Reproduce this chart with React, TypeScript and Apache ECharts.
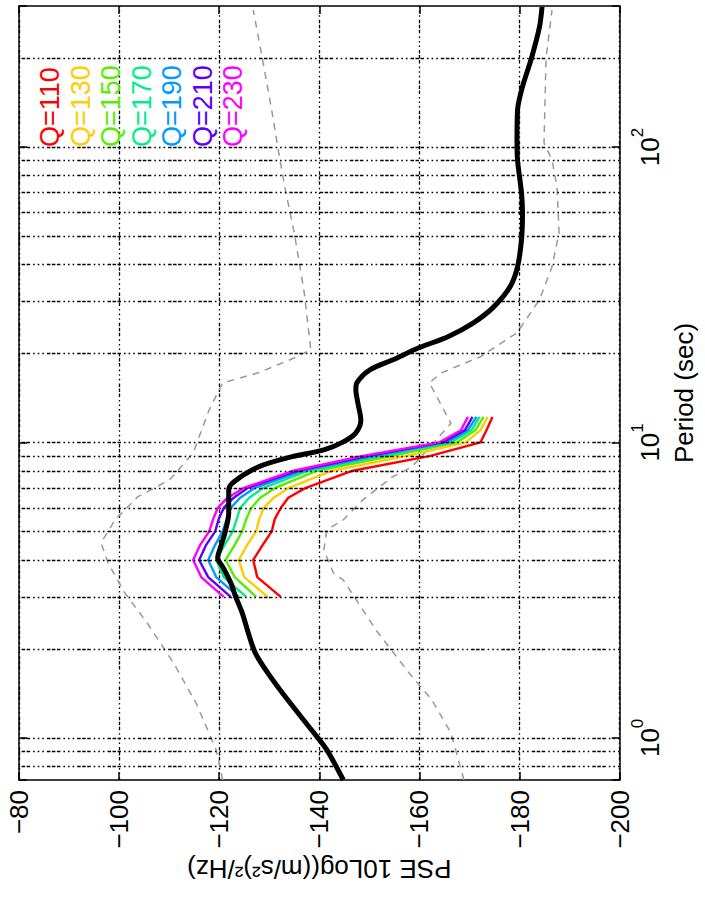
import React, { useEffect, useRef } from 'react';
import * as echarts from 'echarts';

// ---- data ----
const qValues = [110, 130, 150, 170, 190, 210, 230];
const qColors = ['#ff0000', '#ffcc00', '#55ee00', '#00ee88', '#0099ff', '#5a00ff', '#ff00ff'];
const qPeriods = [3.0, 3.5, 4.0, 4.5, 5.0, 5.5, 6.0, 6.5, 7.0, 8.0, 9.0, 10.0, 11.0, 12.2];
const q110 = [-132.3, -127.6, -126.8, -128.7, -130.5, -131.1, -132.3, -133.8, -137.2, -146.4, -162.2, -172.2, -173.4, -174.6];
const q130 = [-129.7, -125.0, -123.9, -125.6, -127.4, -128.0, -128.9, -130.9, -133.8, -142.3, -157.5, -169.3, -172.2, -173.6];
const q150 = [-127.4, -123.1, -121.3, -123.1, -124.6, -125.4, -126.4, -128.2, -131.1, -139.3, -154.6, -167.5, -171.2, -172.8];
const q170 = [-125.4, -120.9, -119.4, -121.1, -122.7, -123.5, -124.2, -126.0, -128.7, -137.6, -152.6, -166.3, -170.4, -172.0];
const q190 = [-123.9, -119.4, -117.8, -119.2, -120.7, -121.5, -122.3, -124.2, -127.0, -136.4, -151.1, -165.4, -169.7, -171.4];
const q210 = [-122.3, -117.8, -116.0, -117.4, -119.2, -119.9, -120.9, -122.9, -125.6, -135.4, -149.9, -164.6, -169.1, -170.6];
const q230 = [-120.9, -116.4, -114.8, -116.2, -118.0, -118.8, -119.7, -121.7, -124.8, -134.6, -148.7, -164.0, -168.3, -169.7];
const qSeries = [q110, q130, q150, q170, q190, q210, q230];

const stationPeriod = [0.72, 0.91, 1.04, 1.35, 1.66, 1.94, 2.27, 2.65, 3.0, 3.35, 3.79, 4.07, 4.43, 5.06, 5.77, 6.9, 7.35, 8.26, 8.93, 9.43, 10.04, 10.77, 11.9, 13.6, 15.1, 15.9, 17.6, 19.0, 20.9, 22.8, 25.4, 28.7, 33.6, 39.3, 48.5, 59.8, 69.9, 90.4, 105.6, 133, 160, 200, 255, 298];
const stationPSE = [-144.8, -141.5, -138.9, -133.6, -129.7, -127.2, -125.8, -124.6, -123.3, -122.3, -120.7, -119.7, -120.3, -121.3, -121.9, -121.9, -122.9, -127.8, -134.4, -140.9, -144.8, -147.3, -148.3, -147.7, -147.3, -147.5, -150.1, -154.6, -159.9, -165.7, -170.8, -174.8, -178.1, -179.6, -180.4, -180.6, -180.4, -179.6, -179.5, -179.6, -180.6, -182.4, -184.0, -184.5];

const highPeriod = [0.72, 0.91, 1.31, 1.79, 2.45, 3.1, 3.91, 4.57, 5.47, 6.54, 7.47, 9.21, 12.9, 15.9, 17.2, 19.5, 20.6, 32.1, 51.2, 73.2, 100, 133, 200, 291];
const highPSE = [-120.7, -119.4, -115.4, -110.9, -105.6, -101.1, -97.8, -96.4, -99.2, -103.7, -110.1, -114.8, -118.0, -120.7, -127.8, -135.6, -138.3, -137.0, -135.0, -133.1, -131.7, -130.5, -128.6, -126.8];

const lowPeriod = [0.72, 1.04, 1.35, 1.66, 2.32, 3.42, 3.62, 4.33, 5.06, 5.47, 6.39, 7.64, 8.26, 11.6, 15.9, 17.2, 19.5, 23.5, 30.4, 39.3, 51.2, 73.2, 90.4, 103, 200, 291];
const lowPSE = [-168.9, -166.3, -162.4, -157.9, -151.3, -144.8, -142.8, -140.9, -141.5, -144.8, -148.7, -154.6, -158.5, -166.3, -162.0, -164.4, -172.2, -179.5, -184.0, -186.5, -187.9, -187.5, -186.5, -184.9, -185.3, -186.5];

const gridPeriods = [0.8, 0.9, 1, 2, 3, 4, 5, 6, 7, 8, 9, 10, 20, 30, 40, 50, 60, 70, 80, 90, 100, 200];
const pseMin = -200;
const pseMax = -80;
const pseStep = 20;
const periodMin = 0.72;
const periodMax = 300;

const FONT = '"Liberation Sans", Arial, Helvetica, sans-serif';
const GRID_DASH = [1.6, 3, 1.6, 3, 1.6, 3, 3.5, 1.5, 3.5, 1.5, 3.5, 3];

export default function App() {
  const ref = useRef<HTMLDivElement>(null);
  useEffect(() => {
    const chart = echarts.init(ref.current as HTMLDivElement, null, { renderer: 'svg' });
    const frameLine = { show: true, onZero: false, lineStyle: { color: '#000', width: 1.5 } };
    const tick = { show: true, inside: true, length: 8, lineStyle: { color: '#000', width: 1.5 } };
    const periodLabel = (v: number) => {
      const l = Math.log10(v);
      const e = Math.round(l);
      if (Math.abs(l - e) < 1e-6) return '{b|10}{s|' + e + '}';
      return '';
    };
    const series: any[] = [];
    series.push({
      type: 'line',
      name: 'grid',
      data: [],
      silent: true,
      z: 1,
      markLine: {
        silent: true,
        symbol: ['none', 'none'],
        label: { show: false },
        lineStyle: { color: '#000', width: 1.3, type: GRID_DASH },
        data: gridPeriods.map((p) => ({ yAxis: p })),
      },
    });
    series.push({
      type: 'line',
      name: 'high',
      data: highPeriod.map((p, i) => [highPSE[i], p]),
      symbol: 'none',
      z: 2,
      lineStyle: { color: '#999', width: 1.5, type: [7, 6] },
    });
    series.push({
      type: 'line',
      name: 'low',
      data: lowPeriod.map((p, i) => [lowPSE[i], p]),
      symbol: 'none',
      z: 2,
      lineStyle: { color: '#999', width: 1.5, type: [7, 6] },
    });
    qSeries.forEach((vals, k) => {
      series.push({
        type: 'line',
        name: 'Q=' + qValues[k],
        data: qPeriods.map((p, i) => [vals[i], p]),
        symbol: 'none',
        z: 3,
        lineStyle: { color: qColors[k], width: 2.4 },
      });
    });
    series.push({
      type: 'line',
      name: 'station',
      data: stationPeriod.map((p, i) => [stationPSE[i], p]),
      symbol: 'none',
      smooth: 0.3,
      z: 4,
      lineStyle: { color: '#000', width: 5 },
    });

    const option: any = {
      animation: false,
      backgroundColor: '#fff',
      textStyle: { fontFamily: FONT },
      grid: { left: 19, right: 73, top: 6, bottom: 129, containLabel: false },
      xAxis: [
        {
          type: 'value', min: pseMin, max: pseMax, interval: pseStep, inverse: true, position: 'bottom',
          name: 'PSE 10Log((m/s²)²/Hz)', nameLocation: 'middle', nameGap: 76, nameRotate: 180,
          nameTextStyle: { fontSize: 26, color: '#000', fontFamily: FONT },
          axisLine: frameLine, axisTick: tick,
          axisLabel: { rotate: 90, margin: 10, fontSize: 26, color: '#000', fontFamily: FONT, formatter: (v: number) => '\u2212' + Math.abs(v) },
          splitLine: { show: true, lineStyle: { color: '#000', width: 1.3, type: GRID_DASH } },
        },
        {
          type: 'value', min: pseMin, max: pseMax, interval: pseStep, inverse: true, position: 'top',
          axisLine: frameLine, axisTick: tick, axisLabel: { show: false }, splitLine: { show: false },
        },
      ],
      yAxis: [
        {
          type: 'log', logBase: 10, min: periodMin, max: periodMax, position: 'right',
          name: 'Period (sec)', nameLocation: 'middle', nameGap: 49, nameRotate: 90,
          nameTextStyle: { fontSize: 26, color: '#000', fontFamily: FONT },
          axisLine: frameLine, axisTick: tick,
          axisLabel: {
            rotate: 90, margin: 9, color: '#000', fontFamily: FONT, formatter: periodLabel,
            rich: {
              b: { fontSize: 26, color: '#000', fontFamily: FONT },
              s: { fontSize: 17, color: '#000', fontFamily: FONT, padding: [0, 0, 26, 0] },
            },
          },
          splitLine: { show: false },
        },
        {
          type: 'log', logBase: 10, min: periodMin, max: periodMax, position: 'left',
          axisLine: frameLine, axisTick: tick, axisLabel: { show: false }, splitLine: { show: false },
        },
      ],
      graphic: qValues.map((q, i) => ({
        type: 'text',
        x: 50 + i * 30.5,
        y: 147,
        rotation: Math.PI / 2,
        z: 10,
        style: {
          text: 'Q=' + q,
          fill: qColors[i],
          fontSize: 27,
          fontFamily: FONT,
          align: 'left',
          verticalAlign: 'middle',
          textAlign: 'left',
          textVerticalAlign: 'middle',
        },
      })),
      series,
    };
    chart.setOption(option);
    return () => chart.dispose();
  }, []);
  return <div ref={ref} style={{ position: 'fixed', left: 0, top: 0, width: 705, height: 909, background: '#fff' }} />;
}
